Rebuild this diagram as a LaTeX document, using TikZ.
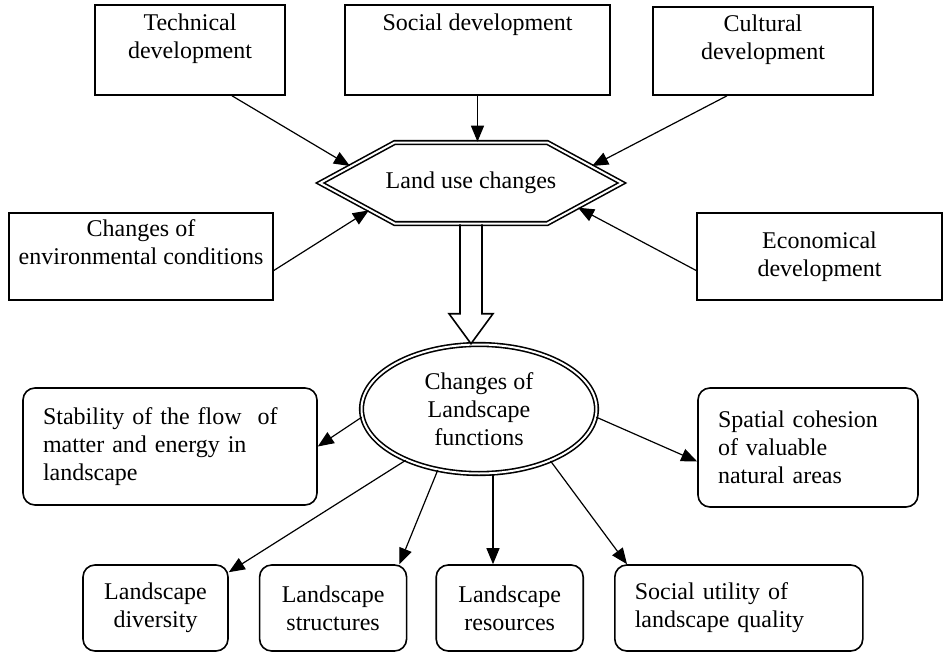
\documentclass[tikz,border=0pt]{standalone}
\usepackage{fontspec}
\setmainfont{Liberation Serif}
\usetikzlibrary{shapes.geometric, shapes.symbols, arrows.meta, positioning, calc}

\begin{document}
\begin{tikzpicture}[
    x=0.5pt, y=-0.5pt,
    font=\fontsize{12}{14}\selectfont,
    node distance=15pt,
    block/.style={rectangle, draw, line width=0.8pt, align=center, inner sep=0pt},
    rblock/.style={block, rounded corners=6pt, minimum height=43pt},
    lblock/.style={rblock, align=left, inner xsep=10pt},
    dline/.style={draw, double, line width=0.8pt, double distance=1pt},
    line/.style={draw, -{Triangle[length=8pt,width=6.5pt]}, line width=0.6pt}
]
\useasboundingbox (0,0) rectangle (944,653);

% driving forces
\node [block, minimum width=95pt, minimum height=45pt] (tech) at (190,50) {Technical\\development\\~};
\node [block, minimum width=132.5pt, minimum height=45pt] (soc) at (477.5,50) {Social development\\~\\~};
\node [block, minimum width=110pt, minimum height=44pt] (cult) at (763,51) {Cultural\\development\\~};
\node [block, minimum width=132pt, minimum height=43.5pt] (env) at (141,256.5) {Changes of\\environmental conditions\\~};
\node [block, minimum width=122.5pt, minimum height=43.5pt] (econ) at (819.5,256.5) {Economical\\development};

% land use
\node [dline, signal, signal to=west and east, signal pointer angle=57, inner xsep=-4.5pt,
       minimum height=40.5pt] (hex) at (471,183) {Land use changes};
\node [dline, ellipse, align=center, inner sep=0pt, minimum width=117.5pt,
       minimum height=64.5pt] (ell) at (479,409) {Changes of\\Landscape\\functions};

% landscape functions
\node [lblock, text width=127pt, minimum height=58.5pt] (stab) at (170,446.5) {Stability of the flow~ of\\matter and energy in\\landscape};
\node [lblock, text width=90pt, minimum height=59.5pt] (spat) at (808,447.5) {Spatial cohesion\\of valuable\\natural areas};
\node [rblock, minimum width=72.5pt] (div) at (155.5,608) {Landscape\\diversity};
\node [rblock, minimum width=73.5pt, right=of div] (str) {Landscape\\structures};
\node [rblock, minimum width=73.5pt, right=14pt of str] (res) {Landscape\\resources};
\node [lblock, text width=104pt, right=of res] (util) {Social utility of\\landscape quality};

\path [line] ([xshift=21pt]tech.south) -- (hex.172);
\path [line] (soc.south) -- (soc.south |- hex.north);
\path [line] ([xshift=-18pt]cult.south) -- (hex.8);
\path [line] ([yshift=-7pt]env.east) -- (hex.195);
\path [line] ([yshift=-7pt]econ.west) -- (hex.347);

\draw [line width=0.8pt] ($(hex.south)+(-11,0)$) -- ($(hex.south |- ell.north)+(-11,-30)$)
    -- ++(-11,0) -- (hex.south |- ell.north) -- ++(22,-30) -- ++(-11,0) -- ($(hex.south)+(11,0)$);

\path [line] (ell.184) -- (stab.east);
\path [line] (ell.356) -- ([yshift=-7pt]spat.west);
\path [line] (ell.215) -- ([yshift=-4pt]div.north east);
\path [line] (ell.236) -- ([xshift=-4pt]str.north east);
\path [line] ([xshift=7pt]ell.south) -- ([xshift=7pt]ell.south |- res.north);
\path [line] (ell.324) -- ([xshift=6.5pt]util.north west);

\end{tikzpicture}
\end{document}
